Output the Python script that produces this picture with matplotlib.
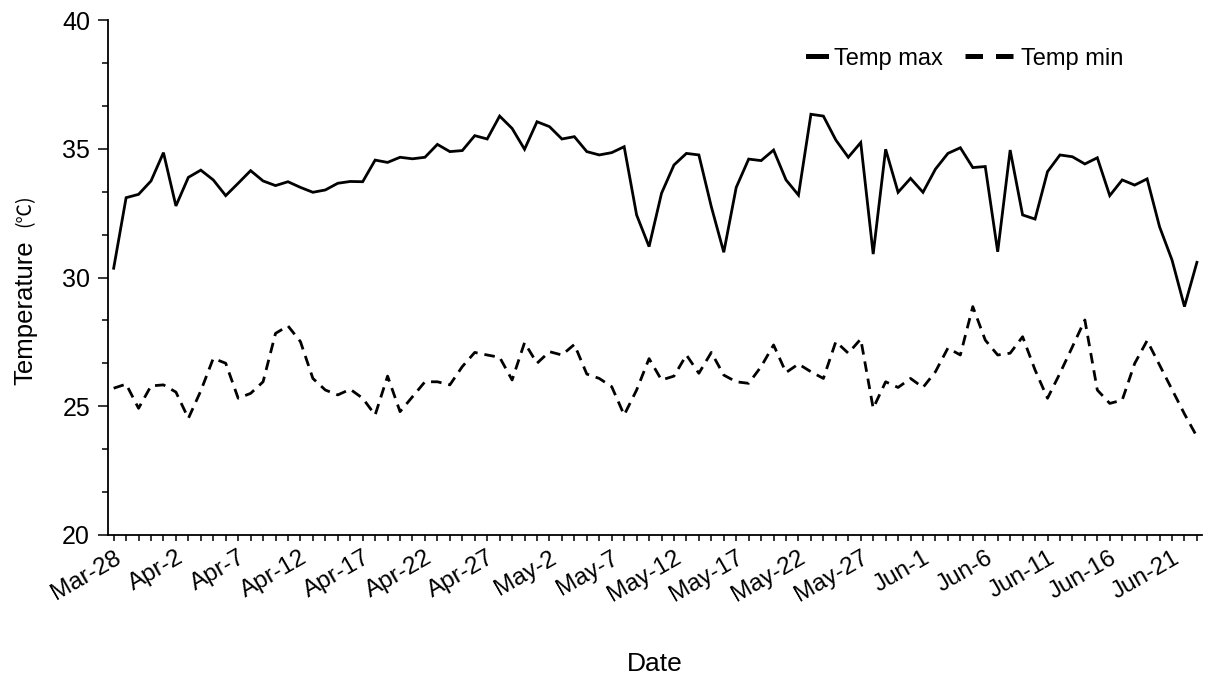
import numpy as np
import pandas as pd
import matplotlib
matplotlib.use("Agg")
import matplotlib.pyplot as plt
from matplotlib.lines import Line2D
from matplotlib.legend_handler import HandlerLine2D
from matplotlib.ticker import MultipleLocator

# daily values, Mar-28 onwards
temp_max = [30.36, 33.10, 33.23, 33.75, 34.85, 32.78, 33.89, 34.17, 33.79, 33.18,
            33.66, 34.15, 33.75, 33.57, 33.72, 33.50, 33.31, 33.40, 33.66, 33.73,
            33.72, 34.56, 34.47, 34.67, 34.61, 34.67, 35.17, 34.89, 34.93, 35.51,
            35.38, 36.27, 35.79, 34.98, 36.05, 35.86, 35.38, 35.47, 34.89, 34.76,
            34.85, 35.08, 32.43, 31.20, 33.27, 34.37, 34.82, 34.76, 32.75, 30.98,
            33.50, 34.60, 34.54, 34.95, 33.79, 33.20, 36.34, 36.27, 35.34, 34.67,
            35.24, 30.91, 34.98, 33.31, 33.85, 33.31, 34.21, 34.82, 35.04, 34.27,
            34.31, 31.00, 34.95, 32.43, 32.27, 34.11, 34.76, 34.69, 34.41, 34.65,
            33.18, 33.79, 33.59, 33.83, 31.97, 30.68, 28.87, 30.59]
temp_min = [25.70, 25.86, 24.92, 25.79, 25.83, 25.55, 24.53, 25.60, 26.86, 26.67,
            25.31, 25.50, 25.95, 27.83, 28.12, 27.51, 26.08, 25.63, 25.44, 25.66,
            25.31, 24.66, 26.17, 24.79, 25.37, 25.95, 25.95, 25.83, 26.54, 27.09,
            26.99, 26.90, 26.02, 27.47, 26.67, 27.12, 26.99, 27.40, 26.25, 26.08,
            25.76, 24.66, 25.63, 26.85, 26.02, 26.17, 26.99, 26.28, 27.09, 26.21,
            25.95, 25.89, 26.54, 27.38, 26.31, 26.64, 26.34, 26.08, 27.51, 27.06,
            27.61, 24.92, 25.95, 25.73, 26.08, 25.73, 26.34, 27.26, 26.99, 28.87,
            27.57, 26.99, 27.06, 27.70, 26.41, 25.31, 26.28, 27.31, 28.35, 25.63,
            25.11, 25.24, 26.66, 27.55, 26.60, 25.65, 24.70, 23.82]
dates = pd.date_range("2021-03-28", periods=len(temp_max), freq="D")
date_labels = [f"{d:%b}-{d.day}" for d in dates]
label_step = 5


class WideHandler(HandlerLine2D):
    """Draw the legend line longer, reaching back into the column gap."""

    def __init__(self, extra, **kw):
        super().__init__(**kw)
        self.extra = extra

    def create_artists(self, legend, orig_handle, xdescent, ydescent, width,
                       height, fontsize, trans):
        ex = self.extra * fontsize
        return super().create_artists(legend, orig_handle, xdescent + ex, ydescent,
                                      width + ex, height, fontsize, trans)


plt.rcParams["font.family"] = ["Liberation Sans", "DejaVu Sans"]

fig = plt.figure(figsize=(12.06, 6.79), dpi=100)
ax = fig.add_axes([0.0896, 0.2121, 0.907, 0.7584])

x = np.arange(len(temp_max))
ax.plot(x, temp_max, color="black", lw=2.0, solid_joinstyle="miter")
ax.plot(x, temp_min, color="black", lw=2.0, ls=(0, (3.8, 2.5)))

ax.set_xlim(-0.45, len(x) - 0.6)
ax.set_ylim(20, 40)
ax.set_yticks([20, 25, 30, 35, 40])
ax.yaxis.set_minor_locator(MultipleLocator(5 / 3))
ax.set_xticks(x[::label_step])
ax.set_xticklabels(date_labels[::label_step], rotation=30, ha="right",
                   rotation_mode="anchor")
ax.set_xticks(x, minor=True)

for side in ("top", "right"):
    ax.spines[side].set_visible(False)
for side in ("left", "bottom"):
    ax.spines[side].set_linewidth(1.3)

ax.tick_params(axis="y", which="major", length=7, width=1.1, labelsize=18, pad=6)
ax.tick_params(axis="y", which="minor", length=4, width=1.1)
ax.tick_params(axis="x", which="both", length=4.5, width=1.1, labelsize=17.5, pad=4)

ax.set_xlabel("Date", fontsize=19, labelpad=33)
fig.text(0.021, 0.433, "Temperature", rotation=90, fontsize=18.5,
         ha="center", va="bottom")
fig.text(0.021, 0.665, "(℃)", rotation=90, fontsize=14,
         ha="center", va="bottom", family=["Noto Sans CJK SC", "DejaVu Sans"])

h_max = Line2D([], [], color="black", lw=3.6)
h_min = Line2D([], [], color="black", lw=3.6, ls=(0, (3.5, 2.6)))
ax.legend([h_max, h_min], ["Temp max", "Temp min"], ncol=2, frameon=False,
          fontsize=17, loc="center right", bbox_to_anchor=(0.928, 0.925),
          borderaxespad=0, borderpad=0, handlelength=0.75, handletextpad=0.35,
          columnspacing=2.2, handler_map={h_min: WideHandler(1.27)})

fig.savefig("out.png", dpi=100)
